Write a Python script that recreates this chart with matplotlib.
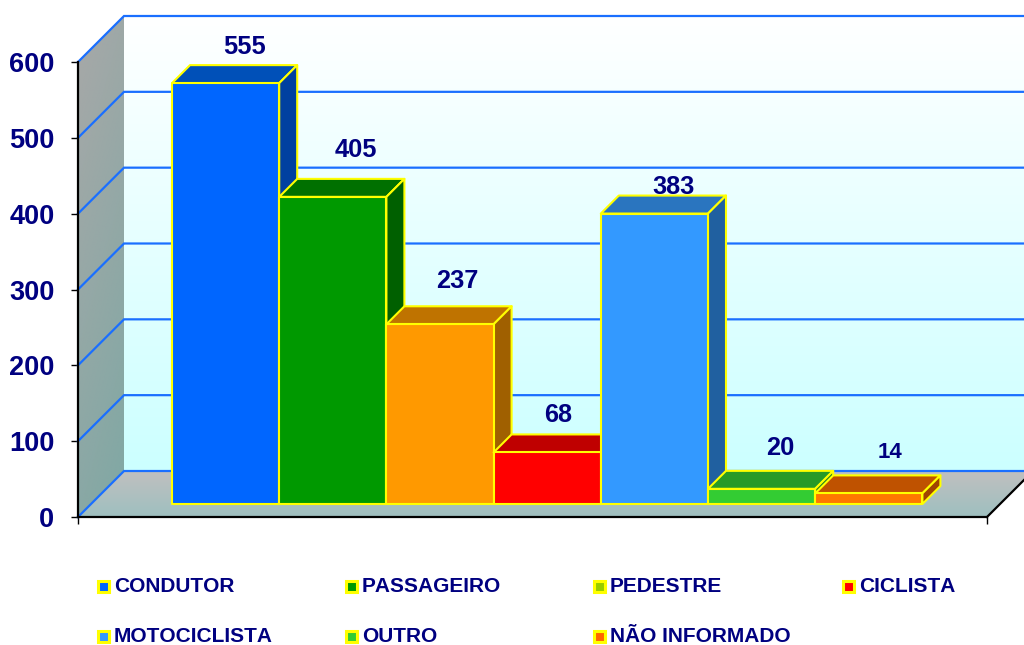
#!/usr/bin/env python3
"""3D-look column chart of victims by category, drawn with flat matplotlib patches."""

import matplotlib
matplotlib.use('Agg')
import matplotlib.pyplot as plt
import numpy as np
from matplotlib.colors import LinearSegmentedColormap
from matplotlib.patches import Polygon, Rectangle

plt.rcParams['font.family'] = ['Liberation Sans', 'DejaVu Sans']
plt.rcParams['text.kerning_factor'] = 6

categories = ['CONDUTOR', 'PASSAGEIRO', 'PEDESTRE', 'CICLISTA',
              'MOTOCICLISTA', 'OUTRO', 'NÃO INFORMADO']
values = [555, 405, 237, 68, 383, 20, 14]
y_ticks = [0, 100, 200, 300, 400, 500, 600]

front_colors = ['#0066FF', '#009900', '#FF9900', '#FF0000', '#3399FF', '#33CC33', '#FF7700']
top_colors = ['#0050B8', '#007000', '#BF7300', '#BF0000', '#2A75BF', '#279A27', '#BF5200']
side_colors = ['#0040A0', '#006000', '#A06000', '#A00000', '#2060A0', '#208020', '#A04500']
# the PEDESTRE swatch is olive in the legend although its bar is orange
legend_colors = ['#0066FF', '#009900', '#99CC00', '#FF0000', '#3399FF', '#33CC33', '#FF6600']

# label offsets from the front-top centre of each bar, in pixels
label_dx = [19, 23, 17, 11, 19, 19, 21]
label_dy = [36, 47, 43, 37, 27, 41, 41]
label_sizes = [18.3, 18.3, 18.3, 18.3, 18.3, 18.3, 16]

legend_x = [97, 345, 593, 842, 97, 345, 593]
legend_y = [586, 586, 586, 586, 636, 636, 636]

NAVY = '#000080'
YELLOW = '#FFFF00'
GRID = '#1A6FFF'

W, H = 1024, 645
BAR_W = 107.2      # pixels per bar
PX_Y = 455 / 600   # pixels per value unit
WALL = 46          # depth of the chart box
DEPTH = 18         # depth of a bar
GAP = 13           # space in front of the bars

fig = plt.figure(figsize=(W / 100, H / 100), dpi=100)
ax = fig.add_axes([78 / W, (H - 517) / H, 909 / W, 455 / H])
xmin = -0.5 - 94 / BAR_W
xmax = xmin + 909 / BAR_W
ax.patch.set_visible(False)


def dx(px):
    return px / BAR_W


def dy(px):
    return px / PX_Y


def gradient(points, colors, extent, angle=False):
    """Fill a polygon with a vertical (or slanted) gradient."""
    cmap = LinearSegmentedColormap.from_list('g', colors)
    g = np.linspace(0, 1, 256)[:, None] * np.ones((256, 256))
    if angle:
        g = g * 0.75 + np.linspace(0, 0.25, 256)[None, :]
    im = ax.imshow(g, cmap=cmap, vmin=0, vmax=1, extent=extent, origin='upper',
                   aspect='auto', zorder=1, interpolation='bilinear')
    clip = Polygon(points, closed=True, transform=ax.transData)
    im.set_clip_box(fig.bbox)
    im.set_clip_path(clip)


# box: back wall, left wall, floor
x_far = xmax + dx(WALL)
x_back = xmin + dx(WALL)
y_back = dy(WALL)
gradient([(x_back, y_back), (x_far, y_back), (x_far, 600 + y_back), (x_back, 600 + y_back)],
         ['#FFFFFF', '#CCFFFF'], (x_back, x_far, y_back, 600 + y_back))
gradient([(xmin, 0), (x_back, y_back), (x_back, 600 + y_back), (xmin, 600)],
         ['#A8A8A8', '#7FA8A4'], (xmin, x_back, 0, 600 + y_back), angle=True)
gradient([(xmin, 0), (xmax, 0), (x_far, y_back), (x_back, y_back)],
         ['#C0C0C0', '#9EBFBF'], (xmin, x_far, 0, y_back))

# gridlines across the left wall and the back wall
for t in y_ticks:
    ax.plot([xmin, x_back, x_far], [t, t + y_back, t + y_back], color=GRID, lw=1.6,
            solid_joinstyle='miter', clip_on=False, zorder=2)
ax.plot([xmax, x_far], [0, y_back], color='black', lw=1.6, clip_on=False, zorder=2)

# bars
for i, v in enumerate(values):
    x0 = i - 0.5
    x1 = i + 0.5
    y0 = dy(GAP)
    y1 = y0 + v
    ox, oy = dx(DEPTH), dy(DEPTH)
    edge = dict(edgecolor=YELLOW, linewidth=1.5, joinstyle='round', clip_on=False, zorder=3 + i)
    ax.add_patch(Polygon([(x0, y1), (x1, y1), (x1 + ox, y1 + oy), (x0 + ox, y1 + oy)],
                         facecolor=top_colors[i], **edge))
    ax.add_patch(Polygon([(x1, y0), (x1 + ox, y0 + oy), (x1 + ox, y1 + oy), (x1, y1)],
                         facecolor=side_colors[i], **edge))
    ax.add_patch(Rectangle((x0, y0), x1 - x0, v, facecolor=front_colors[i], **edge))
    ax.text(i + dx(label_dx[i]), y1 + dy(label_dy[i]), str(v), ha='center', va='center',
            color=NAVY, fontsize=label_sizes[i], fontweight='bold', zorder=20)

ax.set_xlim(xmin, xmax)
ax.set_ylim(0, 600)

for side in ['top', 'right']:
    ax.spines[side].set_visible(False)
for side in ['left', 'bottom']:
    ax.spines[side].set_color('black')
    ax.spines[side].set_linewidth(1.6)
    ax.spines[side].set_zorder(15)

ax.set_yticks(y_ticks)
ax.set_xticks([xmin, xmax])
ax.set_xticklabels([])
ax.tick_params(axis='both', length=5, width=1, color='black')
ax.tick_params(axis='y', pad=12, labelsize=19.5, labelcolor=NAVY)
for lab in ax.get_yticklabels():
    lab.set_fontweight('bold')

# legend
for i, name in enumerate(categories):
    x, y = legend_x[i], legend_y[i]
    fig.add_artist(Rectangle(((x + 1) / W, (H - y - 6) / H), 11 / W, 11 / H, transform=fig.transFigure,
                             facecolor=legend_colors[i], edgecolor=YELLOW, linewidth=2.2))
    fig.text((x + 17) / W, (H - y) / H, name, ha='left', va='center', color=NAVY,
             fontsize=15, fontweight='bold')

fig.savefig('out.png', dpi=100)
